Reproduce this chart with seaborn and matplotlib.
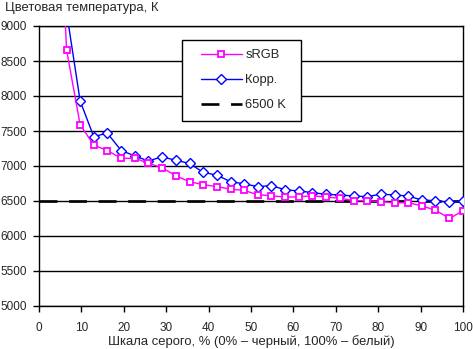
import matplotlib
matplotlib.use("Agg")
import matplotlib.pyplot as plt
from matplotlib.legend_handler import HandlerLine2D
import seaborn as sns
import pandas as pd

gray = [3.2, 6.5, 9.7, 12.9, 16.1, 19.4, 22.6, 25.8, 29.0, 32.3, 35.5, 38.7, 41.9,
        45.2, 48.4, 51.6, 54.8, 58.1, 61.3, 64.5, 67.7, 71.0, 74.2, 77.4, 80.6,
        83.9, 87.1, 90.3, 93.5, 96.8, 100.0]
srgb = [13000, 8660, 7590, 7300, 7220, 7110, 7110, 7040, 6975, 6860, 6775, 6735,
        6705, 6670, 6650, 6590, 6575, 6555, 6560, 6575, 6555, 6540, 6505, 6505,
        6490, 6475, 6475, 6430, 6370, 6250, 6360]
korr_x = gray[1:]
korr = [9200, 7930, 7420, 7470, 7220, 7145, 7070, 7133, 7080, 7038, 6910, 6870,
        6776, 6745, 6705, 6720, 6660, 6643, 6620, 6595, 6586, 6571, 6562, 6598,
        6586, 6571, 6514, 6505, 6481, 6500]
ref_x = [0, 100]
ref_y = [6500, 6500]

labels = ["sRGB", "Корр.", "6500 K"]
yticks = [5000, 5500, 6000, 6500, 7000, 7500, 8000, 8500, 9000]
xticks = [0, 10, 20, 30, 40, 50, 60, 70, 80, 90, 100]

sns.set_style("white")
plt.rcParams['font.family'] = ['Liberation Sans', 'DejaVu Sans']

W, H = 473, 349
fig = plt.figure(figsize=(W / 100, H / 100), dpi=100)
ax = fig.add_axes([39 / W, 1 - 306 / H, (463 - 39) / W, (306 - 26) / H])

df_s = pd.DataFrame({"x": gray, "y": srgb})
df_k = pd.DataFrame({"x": korr_x, "y": korr})
df_r = pd.DataFrame({"x": ref_x, "y": ref_y})

sns.lineplot(data=df_r, x="x", y="y", ax=ax, color="black", linewidth=1.9,
             label=labels[2], zorder=2)
ax.lines[-1].set_dashes([6.8, 4.4])
sns.lineplot(data=df_k, x="x", y="y", ax=ax, color="#0000FF", linewidth=1.0,
             marker="D", markersize=5.2, markerfacecolor="white",
             markeredgecolor="#0000FF", markeredgewidth=1.0, label=labels[1], zorder=3)
sns.lineplot(data=df_s, x="x", y="y", ax=ax, color="#FF00FF", linewidth=1.0,
             marker="s", markersize=5.0, markerfacecolor="white",
             markeredgecolor="#FF00FF", markeredgewidth=1.3, label=labels[0], zorder=4)

ax.set_xlim(0, 100)
ax.set_ylim(5000, 9000)
ax.set_xticks(xticks)
ax.set_yticks(yticks)
ax.set_xticklabels([str(t) for t in xticks], fontsize=8.5)
ax.set_yticklabels([str(t) for t in yticks], fontsize=8.5)
ax.yaxis.grid(True, color="black", linewidth=1.0)
ax.set_axisbelow(True)
ax.tick_params(axis="both", direction="out", length=4, width=1, color="black",
               bottom=True, left=True)
ax.tick_params(axis="x", pad=7.5)
ax.tick_params(axis="y", pad=5)
for s in ax.spines.values():
    s.set_color("black")
    s.set_linewidth(1.0)
ax.set_ylabel("")
ax.set_xlabel("Шкала серого, % (0% – черный, 100% – белый)", fontsize=9.4, labelpad=1)

fig.text(5 / W, 1 - 2 / H, "Цветовая температура, К", fontsize=9.4, ha="left", va="top")


class PadHandler(HandlerLine2D):
    def __init__(self, pad_px, **kw):
        super().__init__(**kw)
        self.pad_px = pad_px

    def create_artists(self, legend, orig_handle, xdescent, ydescent, width,
                       height, fontsize, trans):
        p = self.pad_px * 72 / 100
        return super().create_artists(legend, orig_handle, xdescent - p, ydescent,
                                      width - p, height, fontsize, trans)


h, l = ax.get_legend_handles_labels()
order = [l.index(labels[0]), l.index(labels[1]), l.index(labels[2])]
hs = [h[i] for i in order]
fs = 9.3
ax_w, ax_h = 424, 280
leg = ax.legend(hs, [l[i] for i in order],
                loc="upper left",
                bbox_to_anchor=((182 - 39) / ax_w, 1 - (40 - 26) / ax_h,
                                (301 - 182) / ax_w, 0),
                mode="expand",
                handler_map={hh: PadHandler(9.5) for hh in hs},
                frameon=True, fancybox=False, edgecolor="black", framealpha=1,
                fontsize=fs, handlelength=3.9, borderpad=0.73, labelspacing=1.0,
                handletextpad=0.26, borderaxespad=0)
leg.get_frame().set_linewidth(1.0)

fig.savefig("out.png", dpi=100, facecolor="white")
